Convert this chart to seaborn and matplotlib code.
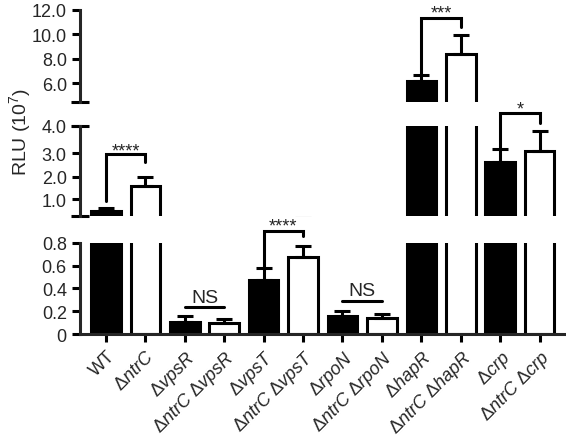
import numpy as np
import pandas as pd
import matplotlib
matplotlib.use('Agg')
import matplotlib.pyplot as plt
import seaborn as sns

# data (RLU in units of 10^7)
strains = ['WT', 'ntrC', 'vpsR', 'ntrC vpsR', 'vpsT', 'ntrC vpsT',
           'rpoN', 'ntrC rpoN', 'hapR', 'ntrC hapR', 'crp', 'ntrC crp']
rlu = [0.865, 1.58, 0.107, 0.098, 0.477, 0.68, 0.16, 0.145, 6.2, 8.36, 2.62, 3.1]
sem = [0.03, 0.42, 0.053, 0.035, 0.10, 0.097, 0.04, 0.03, 0.47, 1.58, 0.54, 0.7]
fills = ['black', 'white'] * 6

sns.set_style('ticks')
plt.rcParams['font.family'] = ['Liberation Sans', 'DejaVu Sans']
plt.rcParams['mathtext.fontset'] = 'custom'
plt.rcParams['mathtext.rm'] = 'Liberation Sans'
plt.rcParams['mathtext.it'] = 'Liberation Sans:italic'

LW = 2.2

# the middle segment of the original axis is not evenly spaced
mid_v = np.array([0.8, 1.0, 2.0, 3.0, 4.0])
mid_p = np.array([0.0, 17.3, 39.6, 63.0, 90.6])


def _piecewise(v, xp, fp):
    v = np.asarray(v, dtype=float)
    out = np.interp(v, xp, fp)
    s0 = (fp[1] - fp[0]) / (xp[1] - xp[0])
    s1 = (fp[-1] - fp[-2]) / (xp[-1] - xp[-2])
    out = np.where(v < xp[0], fp[0] + (v - xp[0]) * s0, out)
    out = np.where(v > xp[-1], fp[-1] + (v - xp[-1]) * s1, out)
    return out


def mid_fwd(v):
    return _piecewise(v, mid_v, mid_p)


def mid_inv(p):
    return _piecewise(p, mid_p, mid_v)


def make_label(name):
    if name == 'WT':
        return 'WT'
    return ' '.join('Δ$\\mathit{%s}$' % g for g in name.split())


df = pd.DataFrame({'strain': strains, 'rlu': rlu})
fig = plt.figure(figsize=(5.66, 4.39), dpi=100)

# three segments of the broken y axis: (bottom, height, ylim, ticks, ticklabels)
segments = [
    (0.2369, 0.2073, (0, 0.8), [0, 0.2, 0.4, 0.6, 0.8], ['0', '0.2', '0.4', '0.6', '0.8']),
    (0.5050, 0.2064, (0.8, 4.0), [1, 2, 3, 4], ['1.0', '2.0', '3.0', '4.0']),
    (0.7660, 0.2096, (4.5, 12.0), [6, 8, 10, 12], ['6.0', '8.0', '10.0', '12.0']),
]
axes = []
for i, (bottom, height, ylim, ticks, tlabels) in enumerate(segments):
    ax = fig.add_axes([0.1413, bottom, 0.8587, height])
    ax.set_facecolor('none')
    if i == 1:
        ax.set_yscale('function', functions=(mid_fwd, mid_inv))
    sns.barplot(data=df, x='strain', y='rlu', hue='strain',
                palette=dict(zip(strains, fills)), edgecolor='black',
                linewidth=LW, width=0.75, errorbar=None, legend=False, ax=ax)
    ax.errorbar(np.arange(len(strains)), rlu, yerr=[np.zeros(len(sem)), sem],
                fmt='none', ecolor='black', elinewidth=LW, capsize=5.5, capthick=LW)
    ax.set_xlim(-0.66, 11.67)
    ax.set_ylim(*ylim)
    ax.set_yticks(ticks)
    ax.set_yticklabels(tlabels)
    ax.minorticks_off()
    ax.set_xlabel('')
    ax.set_ylabel('')
    for s in ['top', 'right']:
        ax.spines[s].set_visible(False)
    ax.spines['left'].set_linewidth(LW)
    ax.spines['bottom'].set_linewidth(LW)
    ax.tick_params(axis='both', direction='out', length=6, width=LW, labelsize=13,
                   color='black')
    axes.append(ax)

ax_bot, ax_mid, ax_top = axes
for ax in (ax_mid, ax_top):
    ax.spines['bottom'].set_visible(False)
    ax.tick_params(axis='x', bottom=False, labelbottom=False)

ax_bot.set_xticks(np.arange(len(strains)))
ax_bot.set_xticklabels([make_label(s) for s in strains], rotation=45, ha='right',
                       rotation_mode='anchor', fontsize=13)

# break marks on the segment ends
for ax, ys in [(ax_top, [0]), (ax_mid, [0, 1])]:
    for y in ys:
        ax.plot([-0.019, 0.019], [y, y], transform=ax.transAxes, color='black',
                lw=LW, clip_on=False, solid_capstyle='butt')


def bracket(ax, x1, x2, ytop, y1, y2, text, ty, size=13):
    ax.plot([x1, x1, x2, x2], [y1, ytop, ytop, y2], color='black', lw=LW,
            clip_on=False, solid_joinstyle='miter')
    ax.text((x1 + x2) / 2, ty, text, ha='center', va='bottom', fontsize=size)


def ns_line(ax, x1, x2, y, ty):
    ax.plot([x1, x2], [y, y], color='black', lw=LW, clip_on=False)
    ax.text((x1 + x2) / 2, ty, 'NS', ha='center', va='bottom', fontsize=14)


bracket(ax_mid, 0, 1, 2.97, 0.98, 2.63, '****', 2.72)
ns_line(ax_bot, 2, 3, 0.235, 0.25)
bracket(ax_bot, 4, 5, 0.907, 0.58, 0.86, '****', 0.873)
ns_line(ax_bot, 6, 7, 0.293, 0.31)
bracket(ax_top, 8, 9, 11.33, 6.75, 10.6, '***', 11.0)
bracket(ax_mid, 10, 11, 4.45, 3.16, 4.1, '*', 4.28)

fig.text(0.035, 0.70, 'RLU (10$^7$)', rotation=90, ha='center', va='center', fontsize=14)

fig.savefig('out.png', dpi=100)
